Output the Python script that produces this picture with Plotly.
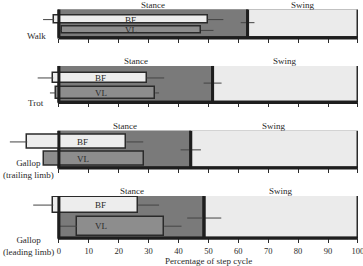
import plotly.graph_objects as go

# ---------------- data (% of step cycle) ----------------
gaits = ["Walk", "Trot", "Gallop<br>(trailing limb)", "Gallop<br>(leading limb)"]
stance_end = [63.1, 51.4, 44.1, 48.6]
stance_sd = [2.3, 3.0, 3.4, 5.7]
bf_on = [-1.6, -1.9, -10.6, -1.9]
bf_on_sd = [3.7, 5.2, 5.8, 6.7]
bf_off = [49.7, 29.3, 22.6, 26.5]
bf_off_sd = [5.3, 5.9, 5.6, 7.0]
vl_on = [0.9, -1.1, -4.9, 6.1]
vl_on_sd = [1.0, 1.9, 0.0, 6.0]
vl_off = [47.5, 32.2, 28.4, 35.2]
vl_off_sd = [4.2, 1.3, 0.0, 5.8]
muscles = ["BF", "VL"]
phase_labels = ["Stance", "Swing"]
tick_vals = [0, 10, 20, 30, 40, 50, 60, 70, 80, 90, 100]
x_title = "Percentage of step cycle"

# ---------------- layout constants ----------------
W, H = 363, 266
domains = [(0.857, 0.964), (0.615, 0.752), (0.368, 0.508), (0.104, 0.263)]
bf_y = [0.648, 0.671, 0.703, 0.786]
bf_h = [0.275, 0.290, 0.378, 0.398]
vl_y = [0.268, 0.260, 0.247, 0.287]
vl_h = [0.250, 0.345, 0.386, 0.456]
stance_err_y = [0.54, 0.53, 0.49, 0.48]
bf_label_x = [24, 14, 8, 14]
vl_label_x = [24, 14, 8, 14]
gait_label_pos = [(36.5, 36), (36, 103), (28, 169), (28, 245.5)]  # pixel centres
title_pos = (208, 260.5)

FONT = "Liberation Serif"
INK = "#2a2a2a"
STANCE_C = "#7a7a7a"
SWING_C = "#ebebeb"
BF_C = "#ededed"
VL_C = "#8d8d8d"
ERR_C = "#444444"

fig = go.Figure()
shapes = []
annotations = []
layout = {}

for i in range(4):
    xa = "x" if i == 0 else f"x{i+1}"
    ya = "y" if i == 0 else f"y{i+1}"
    xkey = "xaxis" if i == 0 else f"xaxis{i+1}"
    ykey = "yaxis" if i == 0 else f"yaxis{i+1}"
    last = i == 3

    # stance / swing background regions
    fig.add_trace(go.Bar(orientation="h", y=[0.5], width=[1.0], base=[0], x=[stance_end[i]],
                         marker=dict(color=STANCE_C, line=dict(color=INK, width=1.5)),
                         xaxis=xa, yaxis=ya, showlegend=False, hoverinfo="skip"))
    fig.add_trace(go.Bar(orientation="h", y=[0.5], width=[1.0], base=[stance_end[i]],
                         x=[100 - stance_end[i]],
                         marker=dict(color=SWING_C, line=dict(color=INK, width=1.5)),
                         xaxis=xa, yaxis=ya, showlegend=False, hoverinfo="skip"))
    # BF and VL activity bars
    fig.add_trace(go.Bar(orientation="h", y=[bf_y[i]], width=[bf_h[i]], base=[bf_on[i]],
                         x=[bf_off[i] - bf_on[i]],
                         marker=dict(color=BF_C, line=dict(color=INK, width=1.5)),
                         xaxis=xa, yaxis=ya, showlegend=False, hoverinfo="skip"))
    fig.add_trace(go.Bar(orientation="h", y=[vl_y[i]], width=[vl_h[i]], base=[vl_on[i]],
                         x=[vl_off[i] - vl_on[i]],
                         marker=dict(color=VL_C, line=dict(color=INK, width=1.5)),
                         xaxis=xa, yaxis=ya, showlegend=False, hoverinfo="skip"))
    # error bars (SD of onset/offset)
    fig.add_trace(go.Scatter(
        x=[stance_end[i], bf_on[i], bf_off[i], vl_on[i], vl_off[i]],
        y=[stance_err_y[i], bf_y[i], bf_y[i], vl_y[i], vl_y[i]],
        mode="markers", marker=dict(size=1, color="rgba(0,0,0,0)"),
        error_x=dict(type="data", symmetric=False,
                     array=[stance_sd[i], 0, bf_off_sd[i], 0, vl_off_sd[i]],
                     arrayminus=[stance_sd[i], bf_on_sd[i], 0, vl_on_sd[i], 0],
                     color=ERR_C, thickness=1, width=0),
        xaxis=xa, yaxis=ya, showlegend=False, hoverinfo="skip"))

    # frame: thick left border, bottom border and stance/swing divider
    shapes.append(dict(type="line", xref=xa, yref=f"{ya} domain", x0=0, x1=0, y0=-0.02, y1=1.0,
                       line=dict(color="#1e1e1e", width=3), layer="above"))
    shapes.append(dict(type="line", xref=xa, yref=f"{ya} domain", x0=0, x1=100, y0=0, y1=0,
                       line=dict(color="#1e1e1e", width=3), layer="above"))
    shapes.append(dict(type="line", xref=xa, yref=f"{ya} domain", x0=stance_end[i], x1=stance_end[i],
                       y0=0, y1=1, line=dict(color="#1e1e1e", width=3), layer="above"))

    # phase labels
    annotations.append(dict(text=phase_labels[0], xref=xa, yref=f"{ya} domain",
                            x=stance_end[i] / 2, y=1, yanchor="bottom", yshift=-2,
                            showarrow=False, font=dict(family=FONT, size=9, color=INK)))
    annotations.append(dict(text=phase_labels[1], xref=xa, yref=f"{ya} domain",
                            x=(stance_end[i] + 100) / 2, y=1, yanchor="bottom", yshift=-2,
                            showarrow=False, font=dict(family=FONT, size=9, color=INK)))
    # muscle labels
    annotations.append(dict(text=muscles[0], xref=xa, yref=ya, x=bf_label_x[i], y=bf_y[i],
                            showarrow=False, font=dict(family=FONT, size=9, color=INK)))
    annotations.append(dict(text=muscles[1], xref=xa, yref=ya, x=vl_label_x[i], y=vl_y[i],
                            showarrow=False, font=dict(family=FONT, size=9, color=INK)))
    # gait label
    gx, gy = gait_label_pos[i]
    annotations.append(dict(text=gaits[i], xref="paper", yref="paper", x=gx / W, y=1 - gy / H,
                            xanchor="center", yanchor="middle", showarrow=False,
                            font=dict(family=FONT, size=9, color=INK)))

    layout[xkey] = dict(domain=[0, 1], anchor=ya, range=[-19.7, 101.7],
                        tickmode="array", tickvals=tick_vals,
                        ticks="outside", ticklen=4, tickwidth=1, tickcolor=INK,
                        showticklabels=last, showgrid=False, zeroline=False, showline=False,
                        tickfont=dict(family=FONT, size=8.5, color=INK), automargin=False,
                        ticklabeloverflow="allow", fixedrange=True)
    layout[ykey] = dict(domain=list(domains[i]), anchor=xa, range=[0, 1], visible=False,
                        showgrid=False, zeroline=False, fixedrange=True)

# x-axis title below the bottom panel
annotations.append(dict(text=x_title, xref="paper", yref="paper",
                        x=title_pos[0] / W, y=1 - title_pos[1] / H,
                        xanchor="center", yanchor="middle", showarrow=False,
                        font=dict(family=FONT, size=9, color=INK)))

fig.update_layout(**layout)
fig.update_layout(width=W, height=H, margin=dict(l=0, r=0, t=0, b=0),
                  barmode="overlay", bargap=0, plot_bgcolor="white", paper_bgcolor="white",
                  shapes=shapes, annotations=annotations, showlegend=False,
                  font=dict(family=FONT, size=9, color=INK))
fig.write_html("out.html")
